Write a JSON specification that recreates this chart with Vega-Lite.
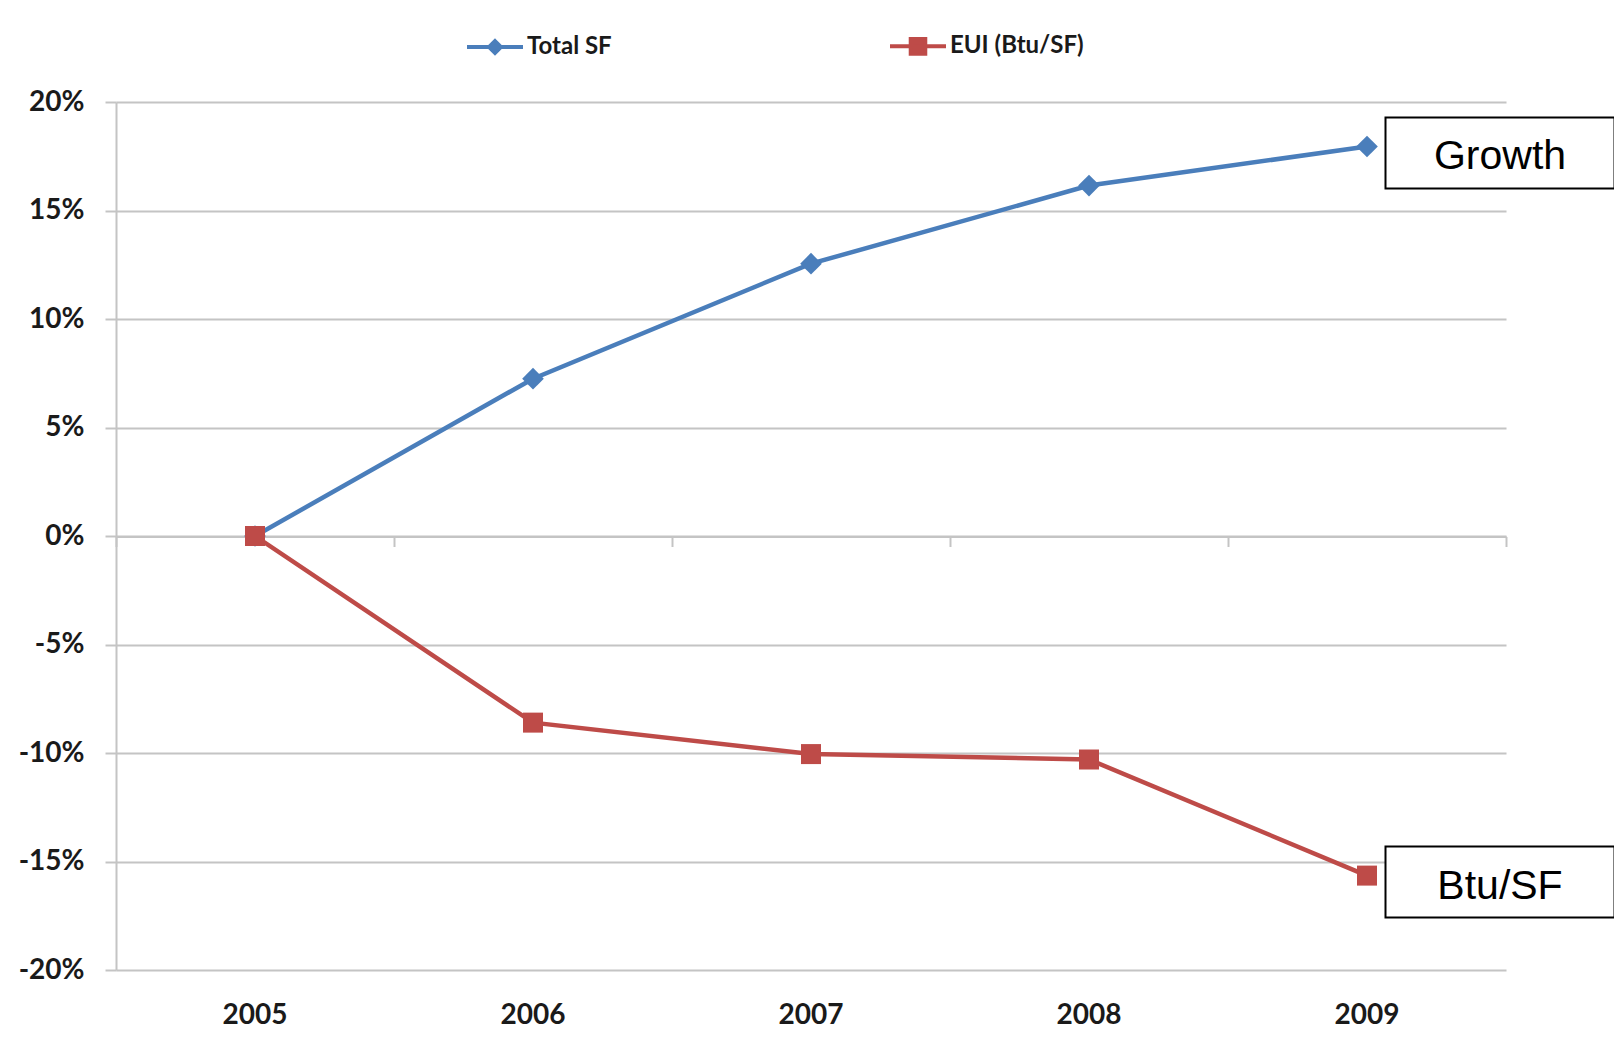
{
  "$schema": "https://vega.github.io/schema/vega-lite/v6.json",
  "width": 1390,
  "height": 868,
  "autosize": {"type": "none"},
  "padding": {"left": 116, "top": 102, "right": 108, "bottom": 76},
  "background": "white",
  "config": {"view": {"stroke": null}, "font": "Lato"},
  "datasets": {
    "series": [
      {"series": "Total SF", "year": 2005, "change": 0},
      {"series": "Total SF", "year": 2006, "change": 7.25},
      {"series": "Total SF", "year": 2007, "change": 12.55},
      {"series": "Total SF", "year": 2008, "change": 16.15},
      {"series": "Total SF", "year": 2009, "change": 17.95},
      {"series": "EUI (Btu/SF)", "year": 2005, "change": 0},
      {"series": "EUI (Btu/SF)", "year": 2006, "change": -8.6},
      {"series": "EUI (Btu/SF)", "year": 2007, "change": -10.05},
      {"series": "EUI (Btu/SF)", "year": 2008, "change": -10.3},
      {"series": "EUI (Btu/SF)", "year": 2009, "change": -15.65}
    ],
    "notes": [
      {"label": "Growth", "year": 2009, "change": 17.95},
      {"label": "Btu/SF", "year": 2009, "change": -15.65}
    ]
  },
  "layer": [
    {
      "data": {"name": "series"},
      "mark": {"type": "line", "strokeWidth": 4.5},
      "encoding": {
        "x": {
          "field": "year",
          "type": "ordinal",
          "scale": {"type": "band", "paddingInner": 0, "paddingOuter": 0},
          "axis": {
            "orient": "bottom",
            "title": null,
            "domain": false,
            "ticks": false,
            "tickSize": 0,
            "grid": false,
            "labelAngle": 0,
            "labelPadding": 31,
            "labelFont": "Lato",
            "labelFontSize": 28,
            "labelFontWeight": "bold",
            "labelColor": "#1a1a1a"
          }
        },
        "y": {
          "field": "change",
          "type": "quantitative",
          "scale": {"domain": [-20, 20], "nice": false, "zero": false},
          "axis": {
            "title": null,
            "values": [-20, -15, -10, -5, 0, 5, 10, 15, 20],
            "labelExpr": "(datum.value < 0 ? '-' : '') + abs(datum.value) + '%'",
            "grid": true,
            "gridColor": "#c4c4c4",
            "gridWidth": 2,
            "domainColor": "#c4c4c4",
            "domainWidth": 2,
            "tickColor": "#c4c4c4",
            "tickWidth": 2,
            "tickSize": 11,
            "labelPadding": 21,
            "labelFont": "Lato",
            "labelFontSize": 28,
            "labelFontWeight": "bold",
            "labelColor": "#1a1a1a"
          }
        },
        "color": {
          "field": "series",
          "type": "nominal",
          "scale": {"domain": ["Total SF", "EUI (Btu/SF)"], "range": ["#4A7EBB", "#BE4B48"]},
          "legend": {
            "orient": "none",
            "legendX": 349,
            "legendY": -86,
            "direction": "horizontal",
            "columns": 2,
            "columnPadding": 270,
            "title": null,
            "padding": 0,
            "labelFont": "Lato",
            "labelFontSize": 24,
            "labelFontWeight": "bold",
            "labelColor": "#1a1a1a",
            "labelOffset": 2,
            "symbolSize": 3136,
            "symbolStrokeWidth": 4,
            "encode": {
              "symbols": {
                "update": {
                  "shape": {"signal": "datum.value === 'Total SF' ? 'M-1,0H1M0,-0.21L0.21,0L0,0.21L-0.21,0Z' : 'M-1,0H1M-0.26,-0.26H0.26V0.26H-0.26Z'"},
                  "stroke": {"signal": "datum.value === 'Total SF' ? '#4A7EBB' : '#BE4B48'"},
                  "fill": {"signal": "datum.value === 'Total SF' ? '#4A7EBB' : '#BE4B48'"},
                  "strokeWidth": {"value": 4},
                  "size": {"value": 3136},
                  "opacity": {"value": 1}
                }
              }
            }
          }
        }
      }
    },
    {
      "data": {"name": "series"},
      "transform": [{"filter": "datum.series === 'Total SF'"}],
      "mark": {"type": "point", "shape": "diamond", "filled": true, "size": 470, "opacity": 1, "color": "#4A7EBB"},
      "encoding": {
        "x": {
          "field": "year",
          "type": "ordinal",
          "axis": {
            "orient": "top",
            "offset": -434.5,
            "title": null,
            "labels": false,
            "grid": false,
            "domain": true,
            "domainColor": "#c4c4c4",
            "domainWidth": 2,
            "ticks": true,
            "tickBand": "extent",
            "tickSize": -10,
            "tickColor": "#c4c4c4",
            "tickWidth": 2
          }
        },
        "y": {"field": "change", "type": "quantitative"}
      }
    },
    {
      "data": {"name": "series"},
      "transform": [{"filter": "datum.series === 'EUI (Btu/SF)'"}],
      "mark": {"type": "point", "shape": "square", "filled": true, "size": 400, "opacity": 1, "color": "#BE4B48"},
      "encoding": {
        "x": {"field": "year", "type": "ordinal", "axis": null},
        "y": {"field": "change", "type": "quantitative"}
      }
    },
    {
      "data": {"name": "notes"},
      "mark": {
        "type": "point",
        "shape": "M-1,-0.31H1V0.31H-1Z",
        "size": 52441,
        "filled": false,
        "fill": "white",
        "fillOpacity": 1,
        "stroke": "black",
        "strokeWidth": 2,
        "opacity": 1,
        "xOffset": 133,
        "yOffset": 6.5
      },
      "encoding": {
        "x": {"field": "year", "type": "ordinal", "axis": null},
        "y": {"field": "change", "type": "quantitative"}
      }
    },
    {
      "data": {"name": "notes"},
      "mark": {
        "type": "text",
        "font": "Liberation Sans",
        "fontSize": 41,
        "color": "black",
        "align": "center",
        "baseline": "alphabetic",
        "xOffset": 133,
        "yOffset": 23
      },
      "encoding": {
        "x": {"field": "year", "type": "ordinal", "axis": null},
        "y": {"field": "change", "type": "quantitative"},
        "text": {"field": "label"}
      }
    }
  ],
  "resolve": {"axis": {"x": "independent"}}
}
